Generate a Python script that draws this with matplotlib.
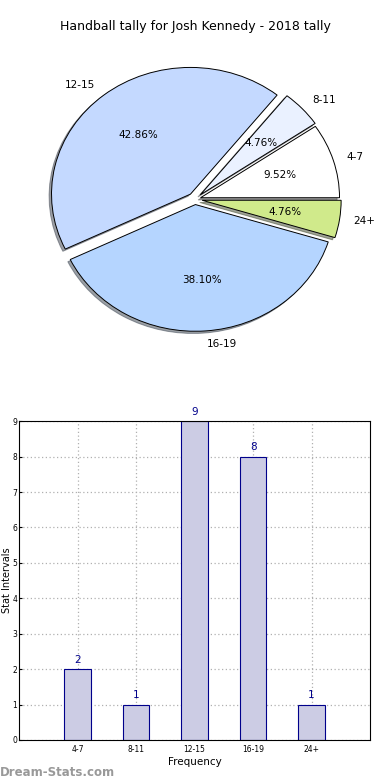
import numpy as np
import matplotlib
matplotlib.use("Agg")
import matplotlib.pyplot as plt

categories = ["4-7", "8-11", "12-15", "16-19", "24+"]
counts = [2, 1, 9, 8, 1]
pie_colors = ["#ffffff", "#eaf1ff", "#c4d9ff", "#b5d5ff", "#d0ea8b"]
explode = [0.04, 0.05, 0.05, 0.04, 0.05]

fig = plt.figure(figsize=(3.9, 7.8), dpi=100)

# pie
ax1 = fig.add_axes([0.036, 0.533, 0.928, 0.423])
wedges, texts, autotexts = ax1.pie(counts, labels=categories, colors=pie_colors,
                                   explode=explode, autopct="%1.2f%%",
                                   shadow=dict(ox=-0.012, oy=-0.012, alpha=0.5),
                                   startangle=0, radius=0.96, labeldistance=1.1,
                                   wedgeprops=dict(edgecolor="black", linewidth=0.7),
                                   textprops=dict(fontsize=7.5))
ax1.set_aspect("auto")
ax1.set_xlim(-1.25, 1.25)
ax1.set_ylim(-1.25, 1.25)
fig.text(0.5, 0.961, "Handball tally for Josh Kennedy - 2018 tally", ha="center", fontsize=9)

# bar
ax2 = fig.add_axes([0.049, 0.0513, 0.9, 0.4087])
x = np.arange(len(categories))
bars = ax2.bar(x, counts, width=0.45, color="#cccce4", edgecolor="#00008b", linewidth=0.8, zorder=2)
for b, v in zip(bars, counts):
    ax2.text(b.get_x() + b.get_width() / 2, v + 0.12, str(v), ha="center", va="bottom",
             color="#00008b", fontsize=7.5)
ax2.set_xlim(-1, 5)
ax2.set_ylim(0, 9)
ax2.set_xticks(x)
ax2.set_xticklabels(categories)
ax2.set_yticks(range(10))
ax2.tick_params(labelsize=5.5, length=2, direction="in")
ax2.tick_params(axis="y", pad=1.5)
ax2.grid(True, linestyle=(0, (1, 2)), color="#b0b0b0", linewidth=0.9, zorder=0)
ax2.set_axisbelow(True)
ax2.set_xlabel("Frequency", fontsize=7.5, labelpad=2)
ax2.set_ylabel("Stat Intervals", fontsize=7)
ax2.yaxis.set_label_coords(-0.021, 0.5)

fig.text(0.0, 0.005, "Dream-Stats.com", fontsize=8.5, color="#999999", fontweight="bold")

fig.savefig("out.png", dpi=100)
